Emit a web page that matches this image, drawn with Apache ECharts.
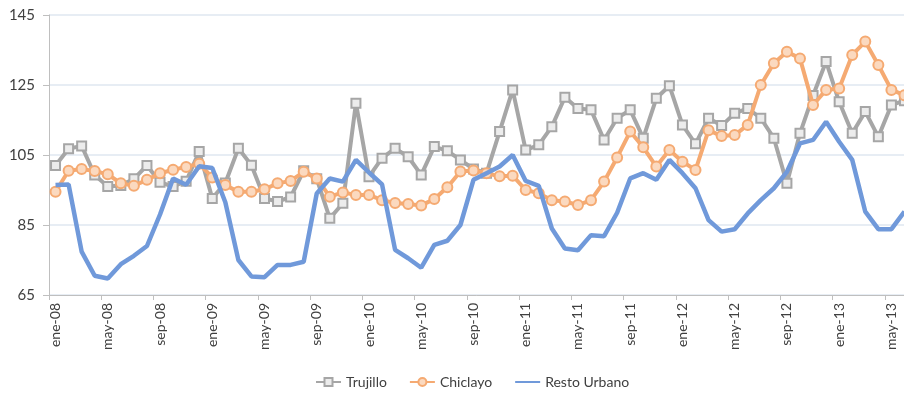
<!DOCTYPE html>
<html>
<head>
<meta charset="utf-8">
<script src="https://cdn.jsdelivr.net/npm/echarts@6/dist/echarts.min.js"></script>
<style>html,body{margin:0;padding:0;background:#fff}#c{width:904px;height:397px}</style>
</head>
<body>
<div id="c"></div>
<script>
const months = ['ene','feb','mar','abr','may','jun','jul','ago','sep','oct','nov','dic'];
const years = ['08','09','10','11','12','13'];
const categories = [];
for (const y of years) for (const m of months) categories.push(m + '-' + y);
categories.length = 66; // ene-08 .. jun-13

const trujillo = [102,106.8,107.6,99.3,96,96.3,98.2,102,97.2,96,97.5,106,
  92.6,97,106.9,102.1,92.6,91.7,93,100.5,98.2,86.9,91.2,119.8,
  98.8,104.1,106.9,104.5,99.3,107.4,106.2,103.6,101,99.8,111.7,123.6,
  106.4,107.9,113.1,121.5,118.3,117.9,109.3,115.5,117.9,109.8,121.2,124.8,
  113.6,108.2,115.5,113.4,116.9,118.3,115.5,109.8,96.9,111.2,122,131.7,
  120.2,111.2,117.4,110.2,119.3,120.5];
const chiclayo = [94.5,100.5,101,100.4,99.5,96.9,96.2,97.9,99.8,100.8,101.6,102.5,
  98.6,96.4,94.5,94.5,95.2,96.9,97.6,100.2,98.3,93.1,94.3,93.6,
  93.6,92.1,91.3,91,90.6,92.4,95.8,100.3,100.6,99.8,98.9,99.1,
  95,94.1,92.1,91.7,90.7,92.1,97.4,104.3,111.7,107.2,101.7,106.4,
  103.1,100.7,112.1,110.4,110.7,113.6,125,131.2,134.5,132.6,119.3,123.6,
  124,133.6,137.4,130.7,123.6,122.1];
const restoUrbano = [96.4,96.6,77.4,70.5,69.7,73.8,76.2,79,88,98.3,96.5,101.8,
  101.3,91.5,75,70.3,70.1,73.6,73.6,74.5,94,98.3,97.4,103.6,
  100,96.6,77.9,75.5,72.8,79.3,80.5,85,97.9,99.8,101.7,105,
  97.6,96.2,84,78.3,77.8,82.1,81.8,88.5,98.3,99.8,97.9,103.6,
  99.8,95.5,86.4,83.1,83.8,88.3,92.1,95.5,100.2,108.3,109.3,114.5,
  108.8,103.6,88.8,83.8,83.8,88.8];
const yMin = 65, yMax = 145, yStep = 20;

const FONT = 'Lato, "Open Sans", sans-serif';
const chart = echarts.init(document.getElementById('c'), null, {renderer: 'canvas'});
chart.setOption({
  animation: false,
  backgroundColor: '#ffffff',
  textStyle: {fontFamily: FONT},
  grid: {left: 49, top: 15, width: 862, height: 280, containLabel: false, outerBoundsMode: 'none'},
  legend: {
    bottom: 3, left: 310,
    itemWidth: 25, itemHeight: 10, itemGap: 22,
    textStyle: {fontSize: 14, color: '#404040', fontFamily: FONT},
    data: ['Trujillo', 'Chiclayo', {name: 'Resto Urbano', itemStyle: {opacity: 0}}]
  },
  xAxis: {
    type: 'category',
    data: categories,
    boundaryGap: true,
    axisLine: {lineStyle: {color: '#bfbfbf', width: 1}},
    axisTick: {show: true, interval: 3, length: 5, lineStyle: {color: '#bfbfbf'}},
    axisLabel: {interval: 3, rotate: 90, margin: 8, fontSize: 14, color: '#404040', fontFamily: FONT},
    splitLine: {show: false}
  },
  yAxis: {
    type: 'value',
    min: yMin, max: yMax, interval: yStep,
    axisLine: {show: true, lineStyle: {color: '#bfbfbf', width: 1}},
    axisTick: {show: true, length: 6, lineStyle: {color: '#bfbfbf'}},
    axisLabel: {margin: 14, fontSize: 15, color: '#404040', fontFamily: FONT},
    splitLine: {show: true, lineStyle: {color: '#dfe7f1', width: 1.5}}
  },
  series: [
    {
      name: 'Trujillo', type: 'line', data: trujillo,
      symbol: 'rect', symbolSize: 9, showAllSymbol: true,
      lineStyle: {color: '#a6a6a6', width: 4},
      itemStyle: {color: '#ececec', borderColor: '#a6a6a6', borderWidth: 2},
      z: 2
    },
    {
      name: 'Chiclayo', type: 'line', data: chiclayo,
      symbol: 'circle', symbolSize: 10, showAllSymbol: true,
      lineStyle: {color: '#f5aa72', width: 4},
      itemStyle: {color: '#fbd9bf', borderColor: '#f5aa72', borderWidth: 2},
      z: 3
    },
    {
      name: 'Resto Urbano', type: 'line', data: restoUrbano,
      symbol: 'none', showSymbol: false,
      lineStyle: {color: '#7099da', width: 4.5},
      itemStyle: {color: '#7099da'},
      z: 4
    }
  ]
});
</script>
</body>
</html>
